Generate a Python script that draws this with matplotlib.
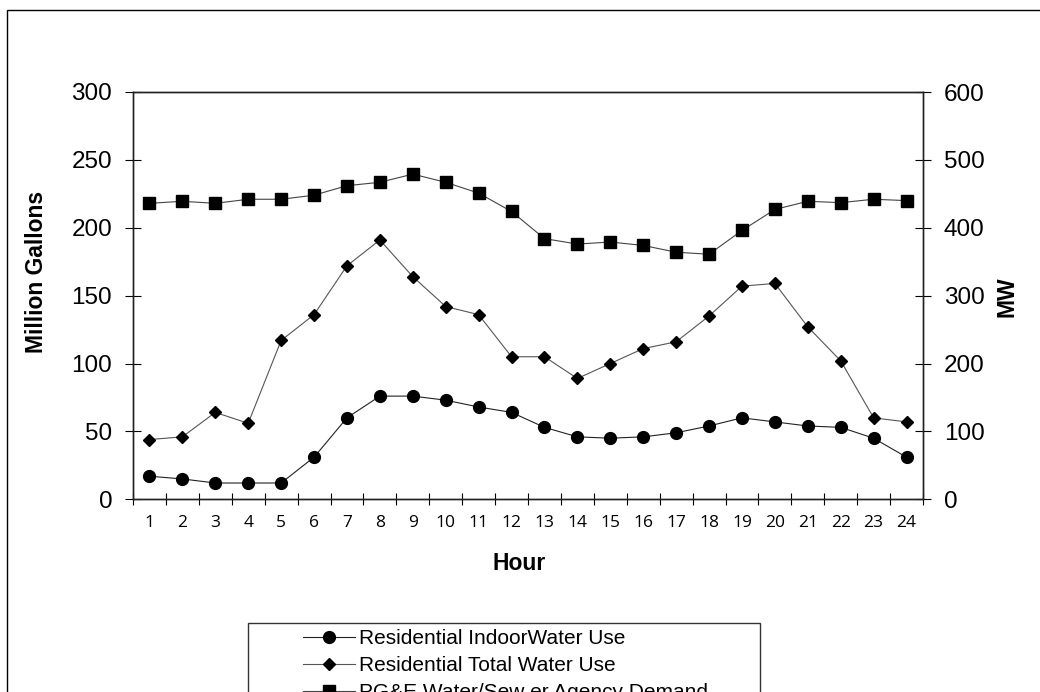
import matplotlib

matplotlib.use("Agg")
import matplotlib.pyplot as plt
from matplotlib.patches import Rectangle

hours = list(range(1, 25))
indoor_use = [17, 15, 12, 12, 12, 31, 60, 76, 76, 73, 68, 64,
              53, 46, 45, 46, 49, 54, 60, 57, 54, 53, 45, 31]
total_use = [44, 46, 64, 56, 117, 136, 172, 191, 164, 142, 136, 105,
             105, 89, 100, 111, 116, 135, 157, 159, 127, 102, 60, 57]
agency_mw = [436, 439, 436, 442, 442, 448, 462, 467, 479, 467, 451, 424,
             384, 376, 379, 374, 364, 361, 396, 427, 439, 437, 442, 440]
series_labels = ["Residential IndoorWater Use", "Residential Total Water Use",
                 "PG&E Water/Sew er Agency Demand"]

W, H = 1040, 692
plt.rcParams["font.family"] = ["Liberation Sans", "DejaVu Sans"]

fig = plt.figure(figsize=(W / 100, H / 100), dpi=100)
fig.patches.append(Rectangle((7 / W, -0.05), 1.1, (H - 10) / H + 0.05,
                             transform=fig.transFigure, fill=False,
                             edgecolor="black", lw=1.0))

left, right, top, bottom = 133, 923, 92, 499.3
ax = fig.add_axes([left / W, (H - bottom) / H, (right - left) / W, (bottom - top) / H])
ax2 = ax.twinx()

x = list(range(len(hours)))
l1, = ax.plot(x, indoor_use, color="#222222", lw=0.8, marker="o", ms=8.5,
              mfc="black", mec="black", label=series_labels[0])
l2, = ax.plot(x, total_use, color="#555555", lw=0.8, marker="D", ms=6.6,
              mfc="black", mec="black", label=series_labels[1])
l3, = ax2.plot(x, agency_mw, color="#444444", lw=0.8, marker="s", ms=8.5,
               mfc="black", mec="black", label=series_labels[2])

ax.set_xlim(-0.5, len(hours) - 0.5)
ax.set_ylim(0, 300)
ax2.set_ylim(0, 600)
ax.set_yticks(range(0, 301, 50))
ax2.set_yticks(range(0, 601, 100))

ax.set_xticks(x, [str(h) for h in hours], fontfamily="Open Sans", fontsize=12.5)
ax.tick_params(axis="x", length=0, pad=11)
ax.set_xticks([i - 0.5 for i in range(len(hours) + 1)], minor=True)
ax.tick_params(axis="x", which="minor", direction="inout", length=8, width=0.8)
ax.tick_params(axis="y", direction="inout", length=11, width=0.8, pad=9.5,
               labelsize=17.5)
ax2.tick_params(axis="y", direction="inout", length=11, width=0.8, pad=9.5,
                labelsize=17.5)

for a in (ax, ax2):
    for spine in a.spines.values():
        spine.set_linewidth(1.0)
        spine.set_color("#222222")

fig.text(37 / W, 1 - 272 / H, "Million Gallons", rotation=90, ha="center",
         va="center", fontsize=16.5, fontweight="bold")
fig.text(1007 / W, 1 - 297 / H, "MW", rotation=90, ha="center", va="center",
         fontsize=16.5, fontweight="bold")
fig.text(519 / W, 1 - 564 / H, "Hour", ha="center", va="center", fontsize=16.5,
         fontweight="bold")

fig.patches.append(Rectangle((248 / W, -0.05), 512 / W, (H - 623) / H + 0.05,
                             transform=fig.transFigure, fill=False,
                             edgecolor="#333333", lw=1.0))
fig.legend(handles=[l1, l2, l3], loc="upper left",
           bbox_to_anchor=(303 / W, 1 - 629 / H), frameon=False, fontsize=15,
           borderpad=0, borderaxespad=0, handlelength=2.5, handletextpad=0.2,
           labelspacing=0.38)

fig.savefig("out.png", dpi=100)
